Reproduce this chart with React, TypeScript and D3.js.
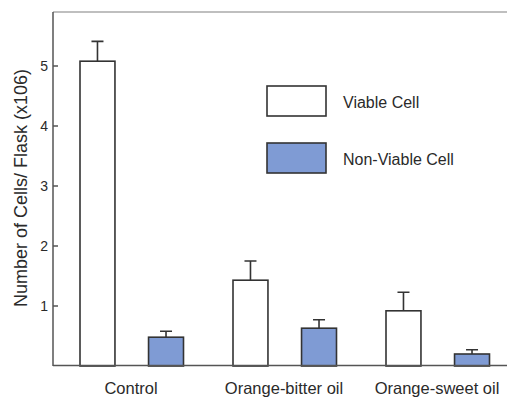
import React, { useEffect, useRef } from 'react';
import * as d3 from 'd3';

const groups = ['Control', 'Orange-bitter oil', 'Orange-sweet oil'];
const seriesKeys = ['viable', 'nonViable'];
const seriesNames = ['Viable Cell', 'Non-Viable Cell'];
const viableValues = [5.08, 1.43, 0.92];
const viableErrors = [0.33, 0.32, 0.31];
const nonViableValues = [0.48, 0.63, 0.2];
const nonViableErrors = [0.1, 0.14, 0.07];
const yTicks = [1, 2, 3, 4, 5];

const W = 507;
const H = 399;
const font = '"Liberation Sans", Arial, sans-serif';
const fills = ['#ffffff', '#7f9bd4'];

const App = () => {
    const svgRef = useRef(null);

    useEffect(() => {
        const svg = d3.select(svgRef.current);
        svg.selectAll('*').remove();

        const left = 53;
        const y = d3.scaleLinear().domain([0, 5.9]).range([366, 12]);

        // group positions
        const x0 = d3.scaleBand().domain(groups).range([55.5, 514.5]).padding(0);
        const x1 = d3.scaleBand().domain(seriesKeys).range([24.5, 128]).paddingInner(0.49).paddingOuter(0);

        const rows = groups.map((g, i) => ({
            group: g,
            bars: [
                { key: 'viable', value: viableValues[i], err: viableErrors[i] },
                { key: 'nonViable', value: nonViableValues[i], err: nonViableErrors[i] },
            ],
        }));

        // frame: top line
        svg.append('line')
            .attr('x1', left).attr('x2', W).attr('y1', 12).attr('y2', 12)
            .attr('stroke', '#aaa').attr('stroke-width', 1.5);

        const gs = svg.selectAll('.grp').data(rows).enter().append('g')
            .attr('transform', d => `translate(${x0(d.group)},0)`);

        // error bars first
        gs.selectAll('.err').data(d => d.bars).enter().append('path')
            .attr('d', d => {
                const cx = x1(d.key) + x1.bandwidth() / 2;
                const yt = y(d.value + d.err);
                return `M${cx},${y(d.value)}V${yt}M${cx - 6},${yt}H${cx + 6}`;
            })
            .attr('stroke', '#333').attr('stroke-width', 1.6).attr('fill', 'none');

        gs.selectAll('.bar').data(d => d.bars).enter().append('rect')
            .attr('x', d => x1(d.key))
            .attr('y', d => y(d.value))
            .attr('width', x1.bandwidth())
            .attr('height', d => y(0) - y(d.value))
            .attr('fill', (d, i) => fills[i])
            .attr('stroke', '#333').attr('stroke-width', 1.6);

        // axes
        svg.append('line')
            .attr('x1', left).attr('x2', W).attr('y1', 365.5).attr('y2', 365.5)
            .attr('stroke', '#555').attr('stroke-width', 1.5);
        svg.append('line')
            .attr('x1', left).attr('x2', left).attr('y1', 12).attr('y2', 366)
            .attr('stroke', '#555').attr('stroke-width', 1.5);

        const yAxis = svg.append('g');
        yAxis.selectAll('line').data(yTicks).enter().append('line')
            .attr('x1', left).attr('x2', left + 5)
            .attr('y1', d => y(d)).attr('y2', d => y(d))
            .attr('stroke', '#555').attr('stroke-width', 1.5);
        yAxis.selectAll('text').data(yTicks).enter().append('text')
            .attr('x', left - 5).attr('y', d => y(d))
            .attr('dy', '0.35em')
            .attr('text-anchor', 'end')
            .attr('font-family', font).attr('font-size', 14)
            .attr('fill', '#2a2a2a')
            .text(d => d);

        // x labels
        svg.selectAll('.xl').data(groups).enter().append('text')
            .attr('x', d => x0(d) + x0.bandwidth() / 2 - 1)
            .attr('y', 388)
            .attr('dy', '0.35em')
            .attr('text-anchor', 'middle')
            .attr('font-family', font).attr('font-size', 16.5)
            .attr('fill', '#2a2a2a')
            .text(d => d);

        // y title
        svg.append('text')
            .attr('transform', 'translate(21,188) rotate(-90)')
            .attr('dy', '0.35em')
            .attr('text-anchor', 'middle')
            .attr('font-family', font).attr('font-size', 18)
            .attr('fill', '#2a2a2a')
            .text('Number of Cells/ Flask (x106)');

        // legend
        const leg = svg.append('g');
        seriesNames.forEach((name, i) => {
            const ly = 86 + i * 57;
            leg.append('rect')
                .attr('x', 267).attr('y', ly).attr('width', 59).attr('height', 30)
                .attr('fill', fills[i]).attr('stroke', '#333').attr('stroke-width', 1.6);
            leg.append('text')
                .attr('x', 343).attr('y', ly + 16)
                .attr('dy', '0.35em')
                .attr('font-family', font).attr('font-size', 16)
                .attr('fill', '#2a2a2a')
                .text(name);
        });
    }, []);

    return (
        <svg ref={svgRef} width={W} height={H}
            style={{ position: 'absolute', left: 0, top: 0, background: '#fff' }} />
    );
};

export default App;
